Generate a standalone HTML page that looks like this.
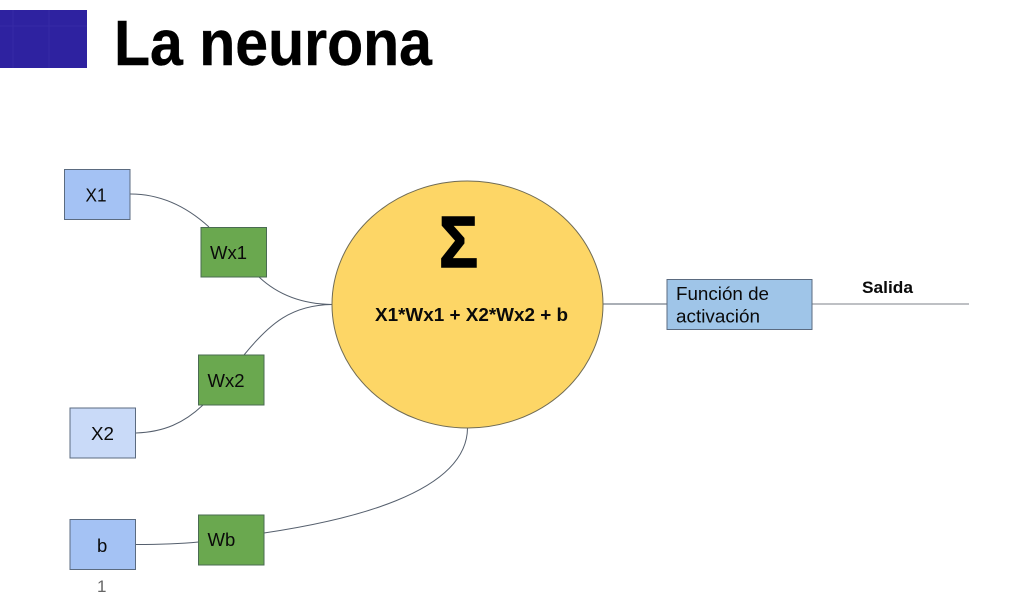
<!DOCTYPE html>
<html lang="es">
<head>
<meta charset="utf-8">
<title>La neurona</title>
<style>
html,body{margin:0;padding:0;background:#fff;width:1009px;height:600px;overflow:hidden}
svg{display:block;filter:blur(.3px)}
text{font-family:"Liberation Sans",Arial,sans-serif;fill:#0a0a0a}
</style>
</head>
<body>
<svg width="1009" height="600" viewBox="0 0 1009 600" xmlns="http://www.w3.org/2000/svg">
  <rect width="1009" height="600" fill="#fff"/>
  <rect x="0" y="10" width="87" height="58" fill="#2e22a0"/>
  <path d="M13 10V68M49 10V68M0 26H87" stroke="#362aa6" stroke-width="1" fill="none"/>
  <text x="114" y="65" font-size="64" font-weight="700" textLength="318" lengthAdjust="spacingAndGlyphs" stroke="#000" stroke-width=".4" style="fill:#000">La neurona</text>

  <g fill="none" stroke="#555f6d" stroke-width="1">
    <path d="M130.500 194C160 194 186 206 209 227"/>
    <path d="M259 277C277 294 300 304 332 304.500"/>
    <path d="M244 355C270 323 292 305 332 304.500"/>
    <path d="M136 433C164 432 184 423 203 405"/>
    <path d="M136 544.500C156 544.500 178 544 198.500 542"/>
    <path d="M264 533C345 521 467 494 467.500 428"/>
    <path d="M603 304H667"/>
    <path d="M812 304H969" stroke="#7d8288"/>
  </g>

  <ellipse cx="467.500" cy="304.500" rx="135.500" ry="123.500" fill="#fdd666" stroke="#6f6b55" stroke-width="1"/>
  <text x="439" y="267" font-size="72" font-weight="700" textLength="39" lengthAdjust="spacingAndGlyphs" stroke="#000" stroke-width="1.600" style="fill:#000">Σ</text>
  <text x="375" y="321" font-size="18" font-weight="700" textLength="193" lengthAdjust="spacingAndGlyphs">X1*Wx1 + X2*Wx2 + b</text>

  <g stroke="#5b6b80" stroke-width="1">
    <rect x="64.500" y="169.500" width="65.500" height="50" fill="#a4c2f4"/>
    <rect x="70" y="408" width="65.500" height="50" fill="#c9daf8"/>
    <rect x="70" y="519.500" width="65.500" height="50" fill="#a4c2f4"/>
    <rect x="667" y="279.500" width="145" height="50" fill="#9fc5e8"/>
  </g>
  <g stroke="#4a6b52" stroke-width="1" fill="#6aa84f">
    <rect x="201" y="227.500" width="65.500" height="49.500"/>
    <rect x="198.500" y="355" width="65.500" height="50"/>
    <rect x="198.500" y="515" width="65.500" height="50"/>
  </g>

  <g font-size="18.500">
    <text x="85.500" y="201.500" textLength="21" lengthAdjust="spacingAndGlyphs">X1</text>
    <text x="91" y="440" textLength="23" lengthAdjust="spacingAndGlyphs">X2</text>
    <text x="97" y="552">b</text>
    <text x="210" y="259" textLength="37" lengthAdjust="spacingAndGlyphs">Wx1</text>
    <text x="207.500" y="387" textLength="37" lengthAdjust="spacingAndGlyphs">Wx2</text>
    <text x="207.500" y="546">Wb</text>
    <text x="676" y="300" textLength="93" lengthAdjust="spacingAndGlyphs">Función de</text>
    <text x="676" y="322.500" textLength="84" lengthAdjust="spacingAndGlyphs">activación</text>
  </g>
  <text x="862" y="293" font-size="17" font-weight="700" textLength="51" lengthAdjust="spacingAndGlyphs">Salida</text>
  <text x="97" y="592" font-size="17" style="fill:#666">1</text>
</svg>
</body>
</html>
